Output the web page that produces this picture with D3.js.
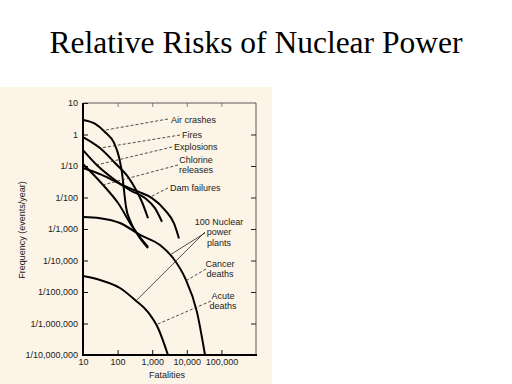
<!DOCTYPE html>
<meta charset="utf-8">
<head>
<style>
body {
  margin: 0;
  background: #fff;
}
.axis text, .lbl {
  font: 9px 'Liberation Sans', Arial, sans-serif;
  fill: #222;
}
h1 {
  position: absolute;
  left: 0; top: 25px;
  width: 512px;
  margin: 0;
  text-align: center;
  font: normal 31.5px 'Liberation Serif', 'Times New Roman', serif;
  color: #000;
}
</style>
<script src="https://cdnjs.cloudflare.com/ajax/libs/d3/7.8.5/d3.min.js"></script>
</head>
<body>
<h1>Relative Risks of Nuclear Power</h1>
<svg id="chart" width="512" height="384"></svg>
<script>

// fatalities ticks and frequency ticks (events/year)
var xTicks = [10, 100, 1000, 10000, 100000]
var xTickLabels = ["10", "100", "1,000", "10,000", "100,000"]
var yTicks = [10, 1, 1e-1, 1e-2, 1e-3, 1e-4, 1e-5, 1e-6, 1e-7]
var yTickLabels = ["10", "1", "1/10", "1/100", "1/1,000", "1/10,000", "1/100,000", "1/1,000,000", "1/10,000,000"]

// curves: [fatalities, frequency]
var airCrashes = [[10, 2.9], [22, 2.2], [43, 1.2], [79, 0.54], [110, 0.19], [134, 0.06], [153, 0.017], [175, 0.005], [228, 0.0019], [340, 0.0008], [507, 0.00042], [757, 0.00025]]
var fires = [[10, 0.83], [31, 0.37], [84, 0.125], [200, 0.045], [318, 0.02], [507, 0.0072], [757, 0.0022]]
var explosions = [[10, 0.32], [25, 0.108], [84, 0.036], [228, 0.017], [617, 0.0096], [1200, 0.0046], [1920, 0.0017]]
var chlorine = [[10, 0.116], [38, 0.025], [103, 0.0067], [279, 0.0011], [757, 0.00027]]
var damFailures = [[10, 0.086], [35, 0.052], [134, 0.025], [415, 0.015], [986, 0.0096], [2340, 0.004], [4270, 0.0015], [5950, 0.0005]]
var cancerDeaths = [[10, 0.0024], [31, 0.0022], [117, 0.00155], [444, 0.00065], [1680, 0.00031], [4000, 0.00012], [8870, 2.8e-5], [19700, 2.3e-6], [33600, 1e-7]]
var acuteDeaths = [[10, 3.2e-5], [31, 2.4e-5], [117, 1.34e-5], [318, 5.6e-6], [757, 2.3e-6], [1470, 7.2e-7], [2860, 1e-7]]

var curves = [airCrashes, fires, explosions, chlorine, damFailures, cancerDeaths, acuteDeaths]

var svg = d3.select('#chart')

// beige page of the scanned figure
svg.append('rect')
  .attr('x', 0).attr('y', 87)
  .attr('width', 272).attr('height', 297)
  .style('fill', '#fcf4e6')

var x = d3.scaleLog().domain([10, 1e6]).range([83, 256])
var y = d3.scaleLog().domain([1e-7, 10]).range([355, 103])

// frame
svg.append('line').attr('x1', 83).attr('x2', 256).attr('y1', 103).attr('y2', 103)
  .style('stroke', '#333').style('stroke-width', 0.8)
svg.append('line').attr('x1', 256).attr('x2', 256).attr('y1', 103).attr('y2', 355)
  .style('stroke', '#333').style('stroke-width', 0.8)

// top / right inner ticks
svg.append('g')
  .attr('transform', 'translate(0,103)')
  .call(d3.axisTop(x).tickValues(xTicks.slice(1)).tickSize(-4).tickFormat(''))
  .call(g => g.select('.domain').remove())
  .selectAll('line').style('stroke', '#555').style('stroke-width', 0.7)

svg.append('g')
  .attr('transform', 'translate(256,0)')
  .call(d3.axisRight(y).tickValues(yTicks.slice(1, -1)).tickSize(-5).tickFormat(''))
  .call(g => g.select('.domain').remove())
  .selectAll('line').style('stroke', '#222').style('stroke-width', 1)

// left axis
var yAxis = svg.append('g')
  .attr('class', 'axis')
  .attr('transform', 'translate(83,0)')
  .call(d3.axisLeft(y).tickValues(yTicks).tickSize(-5).tickPadding(5)
    .tickFormat((d, i) => yTickLabels[i]))
yAxis.select('.domain').remove()
yAxis.selectAll('.tick line').style('stroke', '#111')
yAxis.append('line').attr('x1', 0).attr('x2', 0).attr('y1', 103).attr('y2', 356)
  .style('stroke', '#000').style('stroke-width', 2)

// bottom axis
var xAxis = svg.append('g')
  .attr('class', 'axis')
  .attr('transform', 'translate(0,355)')
  .call(d3.axisBottom(x).tickValues(xTicks).tickSize(-5).tickPadding(4)
    .tickFormat((d, i) => xTickLabels[i]))
xAxis.select('.domain').remove()
xAxis.selectAll('.tick line').style('stroke', '#111')
xAxis.append('line').attr('x1', 82).attr('x2', 257).attr('y1', 0).attr('y2', 0)
  .style('stroke', '#000').style('stroke-width', 2)

// axis titles
svg.append('text')
  .attr('class', 'lbl')
  .attr('transform', 'translate(25,230) rotate(-90)')
  .attr('text-anchor', 'middle')
  .text('Frequency (events/year)')

svg.append('text')
  .attr('class', 'lbl')
  .attr('x', 167).attr('y', 378)
  .attr('text-anchor', 'middle')
  .text('Fatalities')

// curves
var line = d3.line()
  .x(d => x(d[0]))
  .y(d => y(d[1]))
  .curve(d3.curveMonotoneX)

svg.selectAll('.curve')
  .data(curves)
  .enter().append('path')
  .attr('class', 'curve')
  .attr('d', line)
  .style('fill', 'none')
  .style('stroke', '#000')
  .style('stroke-width', 2)

// frequency on a curve at a given fatality count (log interpolation)
function onCurve(c, f) {
  var lx = c.map(d => Math.log10(d[0]))
  var ly = c.map(d => Math.log10(d[1]))
  return Math.pow(10, d3.scaleLinear().domain(lx).range(ly)(Math.log10(f)))
}

// labels: text, curve, fatality where the leader meets it, label place, leader start
var notes = [
  {lines: ['Air crashes'], curve: airCrashes, at: 38, tx: 171, ty: 120, anchor: 'start', lx: 168, ly: 119, dash: true},
  {lines: ['Fires'], curve: fires, at: 31, tx: 182, ty: 135, anchor: 'start', lx: 180, ly: 135, dash: true},
  {lines: ['Explosions'], curve: explosions, at: 25, tx: 174, ty: 147, anchor: 'start', lx: 172, ly: 147, dash: true},
  {lines: ['Chlorine', 'releases'], curve: chlorine, at: 38, tx: 196, ty: 160, anchor: 'middle', lx: 178, ly: 165, dash: true},
  {lines: ['Dam failures'], curve: damFailures, at: 863, tx: 170, ty: 188, anchor: 'start', lx: 168, ly: 188, dash: true},
  {lines: ['100 Nuclear', 'power', 'plants'], curve: cancerDeaths, at: 3270, tx: 219, ty: 222, anchor: 'middle', lx: 205, ly: 233, dash: false},
  {lines: [], curve: acuteDeaths, at: 340, tx: 0, ty: 0, anchor: 'middle', lx: 205, ly: 232, dash: false},
  {lines: ['Cancer', 'deaths'], curve: cancerDeaths, at: 9480, tx: 220, ty: 264, anchor: 'middle', lx: 206, ly: 269, dash: true},
  {lines: ['Acute', 'deaths'], curve: acuteDeaths, at: 1290, tx: 223, ty: 296, anchor: 'middle', lx: 211, ly: 301, dash: true}
]

notes.forEach(function (n) {
  svg.append('line')
    .attr('x1', n.lx).attr('y1', n.ly)
    .attr('x2', x(n.at)).attr('y2', y(onCurve(n.curve, n.at)))
    .style('stroke', '#222')
    .style('stroke-width', 0.8)
    .style('stroke-dasharray', n.dash ? '3,2' : null)

  var t = svg.append('text')
    .attr('class', 'lbl')
    .attr('text-anchor', n.anchor)
  n.lines.forEach(function (s, i) {
    t.append('tspan')
      .attr('x', n.tx)
      .attr('y', n.ty + i * 10.2)
      .attr('dy', '0.35em')
      .text(s)
  })
})

</script>
</body>
